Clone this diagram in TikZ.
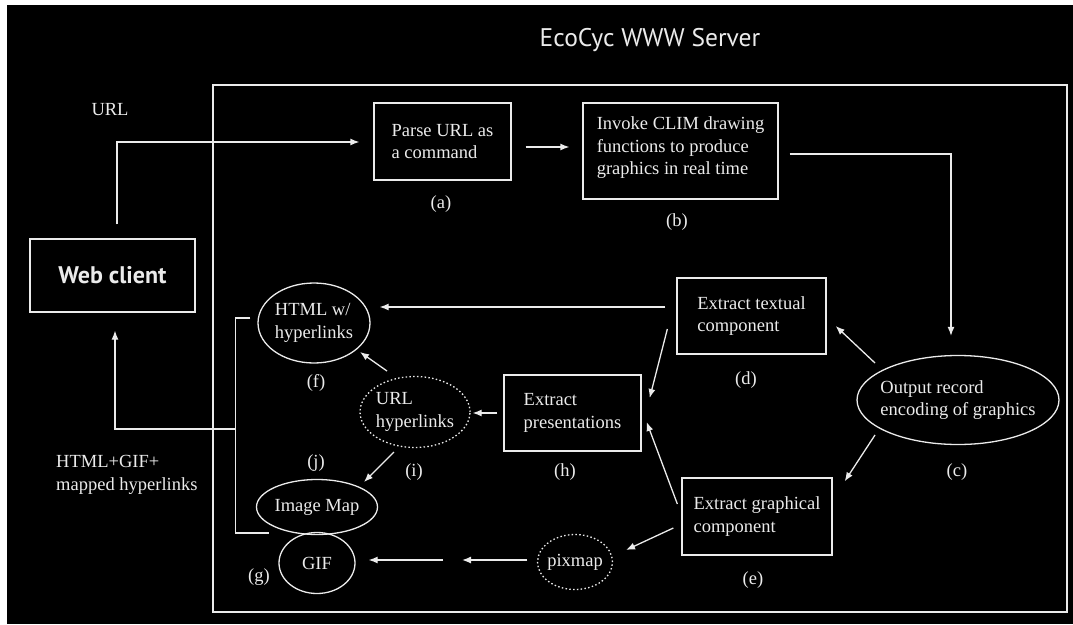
\documentclass[tikz,border=0pt]{standalone}
\usepackage{fontspec}
\setmainfont{Liberation Serif}
\newfontfamily\sansf{PT Sans}
\usetikzlibrary{shapes.geometric,arrows.meta,calc}
\definecolor{lineclr}{gray}{0.92}
\newcommand\dfont{\fontsize{18.5}{22.5}\selectfont}
\begin{document}
\begin{tikzpicture}[x=1pt,y=-1pt,
  fg/.style={draw=lineclr, line width=1.3pt},
  arr/.style={draw=lineclr, line width=1.3pt, -{Latex[length=9pt,width=7pt]}},
  box/.style={draw=lineclr, line width=1.3pt, rectangle, inner xsep=2pt, inner ysep=0pt, align=left, text=lineclr, font=\dfont},
  ell/.style={draw=lineclr, line width=1.3pt, ellipse, inner sep=0pt},
  dell/.style={ell, dash pattern=on 1.5pt off 2.3pt},
  lab/.style={text=lineclr, font=\dfont, inner sep=0pt, align=left},
  ttl/.style={text=lineclr, font={\sansf\fontsize{25.5}{30}\selectfont}, inner sep=0pt},
]
\useasboundingbox (0,0) rectangle (1073,624);
\fill[black] (0,0) rectangle (1073,624);
\fill[white] (0,0) rectangle (1073,5);
\fill[white] (0,0) rectangle (7,624);

% title and frame
\node[ttl] (title) at (650,40) {EcoCyc WWW Server};
\node[fg, rectangle, inner sep=0pt, minimum width=854pt, minimum height=527pt] (srv) at (640,348.5) {};

% boxes
\node[box, minimum width=165pt, minimum height=73pt, font={\sansf\bfseries\fontsize{24}{28}\selectfont}] (wc) at (112.5,275.5) {Web client};
\node[box, minimum width=137pt, minimum height=77pt] (pa) at (442.5,141.5) {Parse URL as\\a command};
\node[box, minimum width=195pt, minimum height=96pt, text depth=10pt] (iv) at (680.5,151) {Invoke CLIM drawing\\functions to produce\\graphics in real time};
\node[box, minimum width=149pt, minimum height=76pt] (tx) at (751.5,316) {Extract textual\\component};
\node[box, minimum width=150pt, minimum height=77pt] (gr) at (757,516.5) {Extract graphical\\component};
\node[box, minimum width=137pt, minimum height=76pt] (pr) at (572.5,413) {Extract\\presentations};

% ellipses
\node[ell, minimum width=202pt, minimum height=89pt, label={[lab]center:{Output record\\encoding of graphics}}] (c) at (958,400) {};
\node[ell, minimum width=112pt, minimum height=80pt, label={[lab]center:{HTML w/\\hyperlinks}}] (f) at (314,323) {};
\node[ell, minimum width=121pt, minimum height=55pt, label={[lab]center:{Image Map}}] (j) at (317,507) {};
\node[ell, minimum width=76pt, minimum height=61pt, label={[lab]center:{GIF}}] (g) at (317,563) {};
\node[dell, minimum width=110pt, minimum height=71pt, label={[lab]center:{URL\\hyperlinks}}] (i) at (415,412) {};
\node[dell, minimum width=75pt, minimum height=55pt, label={[lab]center:{pixmap}}] (pix) at (575,562) {};

% letter labels
\node[lab] (la) at (441,204) {(a)};
\node[lab] (lb) at (677,222) {(b)};
\node[lab] (lc) at (957,472) {(c)};
\node[lab] (ld) at (746,380) {(d)};
\node[lab] (le) at (753,580) {(e)};
\node[lab] (lf) at (316,383) {(f)};
\node[lab] (lg) at (259,577) {(g)};
\node[lab] (lh) at (565,472) {(h)};
\node[lab] (li) at (414,472) {(i)};
\node[lab] (lj) at (316,463) {(j)};

% outside texts
\node[lab] (url) at (110,110) {URL};
\node[lab, anchor=west] (ret) at (56,475) {HTML+GIF+\\mapped hyperlinks};

% connectors
\draw[arr] ($(wc.north)+(4.5,-14)$) |- ($(pa.west)+(-14,0.5)$);
\draw[arr] ($(pa.east)+(14,5.5)$) -- ($(iv.west)+(-13,-4)$);
\draw[arr] ($(iv.east)+(11,3)$) -| ($(c.north)+(-7,-19)$);
\draw[arr] ($(c.center)+(-83,-37)$) -- ($(tx.east)+(9,10)$);
\draw[arr] ($(c.center)+(-83,35)$) -- ($(gr.north east)+(12,4)$);
\draw[arr] ($(tx.west)+(-9,13)$) -- ($(pr.east)+(8,-15)$);
\draw[arr] ($(gr.west)+(-4,-12.5)$) -- ($(pr.east)+(5,9)$);
\draw[arr] ($(gr.west)+(-8,11.5)$) -- ($(pix.center)+(51,-12)$);
\draw[arr] ($(tx.west)+(-11,-9)$) -- ($(f.east)+(9,-16)$);
\coordinate (pg) at (452.5,560);
\draw[arr] ($(pix.west)+(-9.5,-2)$) -- ($(pg)+(9.5,0)$);
\draw[arr] ($(pg)+(-9.5,0)$) -- ($(g.east)+(13,-3)$);
\draw[arr] ($(pr.west)+(-6,0)$) -- ($(i.east)+(2,1)$);
\draw[arr] ($(i.center)+(-28,-41)$) -- ($(f.center)+(46,29)$);
\draw[arr] ($(i.center)+(-21,40)$) -- ($(j.center)+(47,-25)$);
\draw[fg] ($(f.west)+(-7,-5)$) -- ++(-15,0) |- ($(g.center)+(-48,-30)$);
\coordinate (br) at (236,429);
\draw[arr] (br) -| ($(wc.south)+(2.5,18)$);
\end{tikzpicture}
\end{document}
